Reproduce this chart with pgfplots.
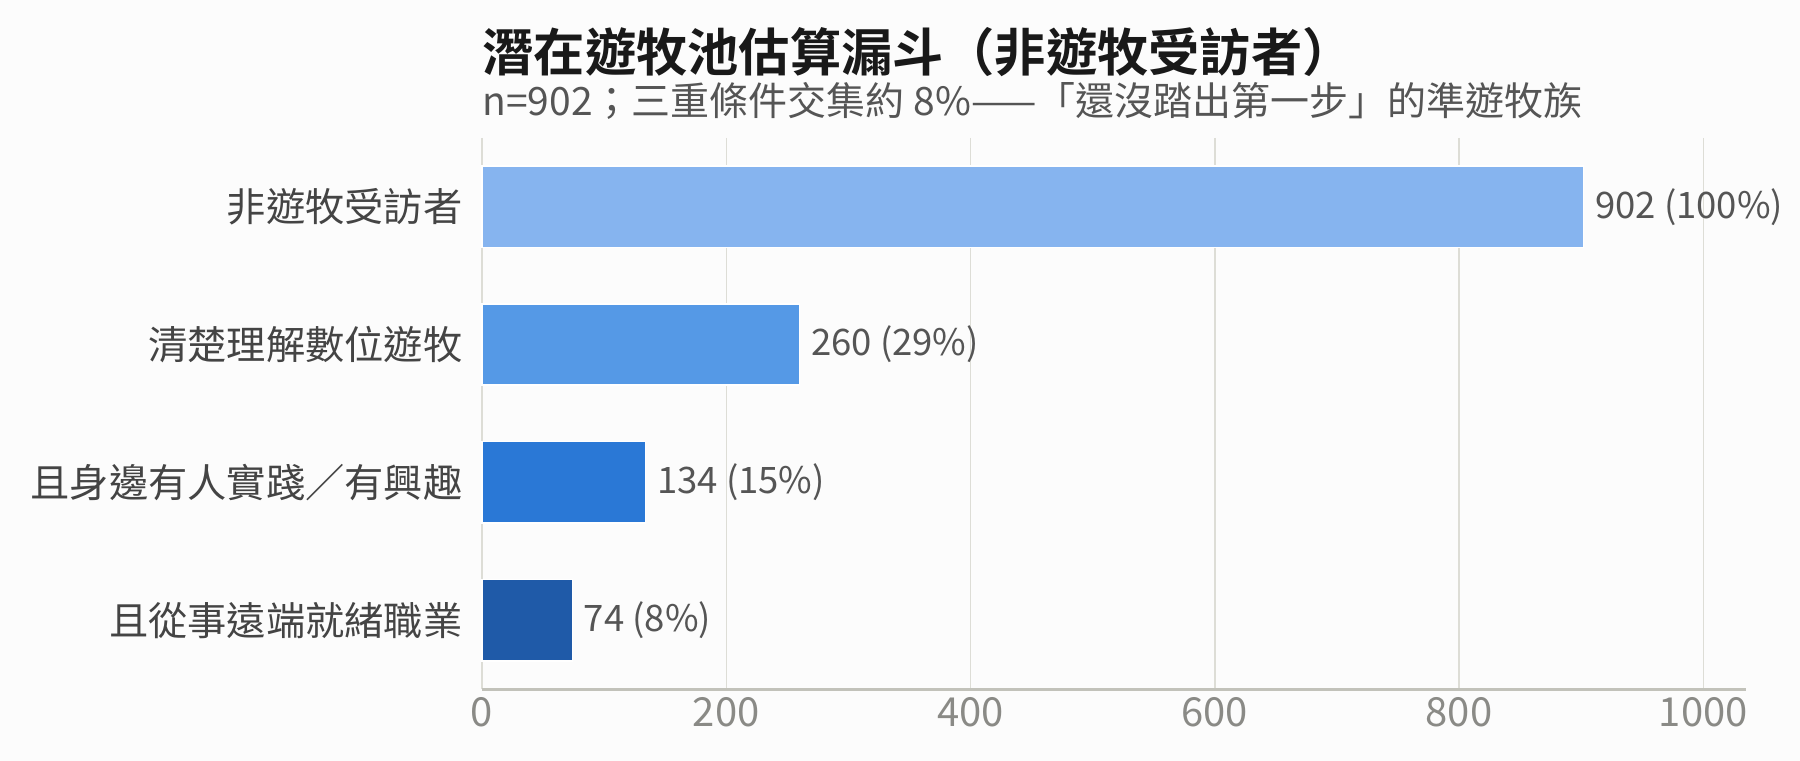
\documentclass[border=0pt]{standalone}
\usepackage{fontspec}
\setmainfont{Noto Sans CJK TC}[BoldFont={Noto Sans CJK TC Bold}]
\usepackage{pgfplots}
\pgfplotsset{compat=1.18}
\definecolor{bgc}{HTML}{FCFCFC}
\definecolor{cA}{HTML}{86B4EF}
\definecolor{cB}{HTML}{5599E6}
\definecolor{cC}{HTML}{2A78D6}
\definecolor{cD}{HTML}{1F5AA8}
\definecolor{gridc}{HTML}{DDDDD6}
\definecolor{axc}{HTML}{C2C2BA}
\definecolor{tickc}{HTML}{8A8A86}
\definecolor{labc}{HTML}{444444}
\definecolor{valc}{HTML}{555555}
\begin{document}
\begin{tikzpicture}
\fill[bgc] (0,0) rectangle (720pt,304.4pt);
\useasboundingbox (0,0) rectangle (720pt,304.4pt);
\begin{axis}[
  at={(192.8pt,28.8pt)}, anchor=south west,
  scale only axis, width=505.6pt, height=220.4pt,
  xbar, bar width=32.5pt, bar shift=0pt,
  xmin=0, xmax=1035,
  ymin=-0.5, ymax=3.5, y dir=reverse,
  ytick={0,1,2,3},
  yticklabels={非遊牧受訪者,清楚理解數位遊牧,且身邊有人實踐／有興趣,且從事遠端就緒職業},
  xtick={0,200,400,600,800,1000},
  /pgf/number format/1000 sep={},
  axis x line*=bottom, axis y line*=left,
  y axis line style={draw=none},
  x axis line style={draw=axc, line width=1.2pt, -},
  xtick style={draw=none}, ytick style={draw=none},
  xmajorgrids, grid style={draw=gridc, line width=0.6pt},
  /pgf/number format/assume math mode=true,
  xticklabel style={font=\fontsize{16}{18}\selectfont, text=tickc},
  yticklabel style={font=\fontsize{15.7}{18}\selectfont, text=labc},
  point meta=explicit symbolic,
  nodes near coords,
  nodes near coords style={font=\fontsize{14.6}{18}\selectfont, text=valc, anchor=west, xshift=1pt},
  every axis plot/.append style={draw=white, line width=0.6pt},
  axis background/.style={fill=bgc},
  clip=false,
]
\addplot[fill=cA, draw=white] coordinates {(902,0) [902 (100\%)]};
\addplot[fill=cB, draw=white] coordinates {(260,1) [260 (29\%)]};
\addplot[fill=cC, draw=white] coordinates {(134,2) [134 (15\%)]};
\addplot[fill=cD, draw=white] coordinates {(74,3) [74 (8\%)]};
\node[anchor=west, font=\fontsize{20.5}{24}\selectfont\bfseries, text=black!90, inner sep=0pt] at ([yshift=34.4pt]rel axis cs:0,1) {潛在遊牧池估算漏斗（非遊牧受訪者）};
\node[anchor=west, font=\fontsize{15.6}{18}\selectfont, text=valc, inner sep=0pt] at ([yshift=14.8pt]rel axis cs:0,1) {n=902；三重條件交集約 8\%——「還沒踏出第一步」的準遊牧族};
\end{axis}
\end{tikzpicture}
\end{document}
